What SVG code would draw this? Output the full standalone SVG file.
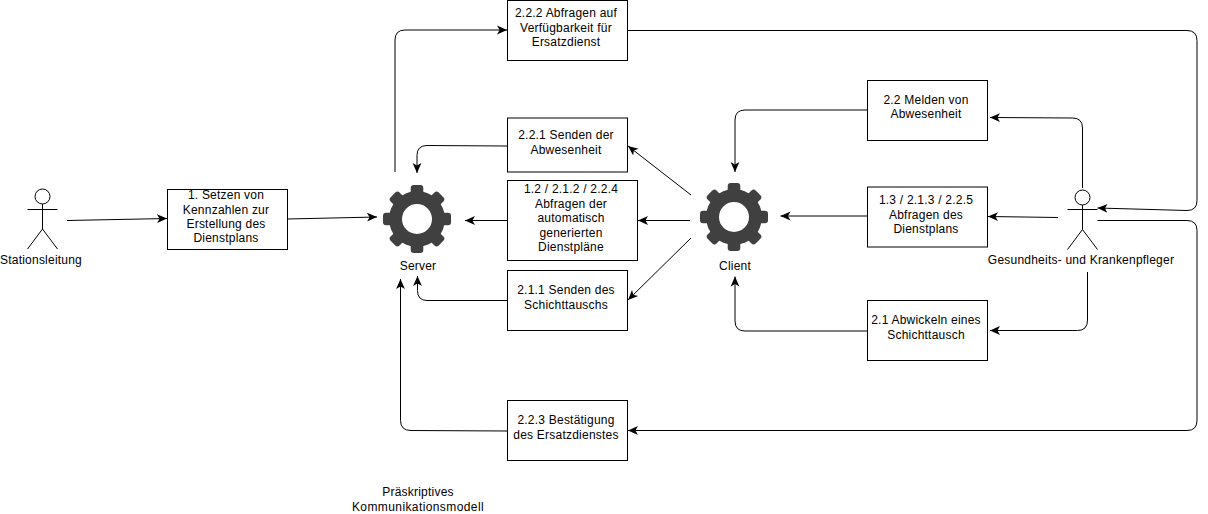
<svg xmlns="http://www.w3.org/2000/svg" xmlns:xlink="http://www.w3.org/1999/xlink" width="1208" height="514" viewBox="0 0 1208 514">
<style>
text{font-family:"Liberation Sans",Arial,sans-serif;font-size:12px;fill:#000;text-anchor:middle;letter-spacing:.22px}
.box{fill:#fff;stroke:#000;stroke-width:1}
.c{fill:none;stroke:#000;stroke-width:1;marker-end:url(#arrow)}
.actor{fill:none;stroke:#000;stroke-width:1}
.gear{fill:#404040}
</style>
<defs>
<marker id="arrow" markerUnits="userSpaceOnUse" markerWidth="11" markerHeight="10" refX="10" refY="5" orient="auto">
<path d="M10,5 L0,0.6 L2.6,5 L0,9.4Z" fill="#000"/>
</marker>
<g id="gear-shape">
<path class="gear" fill-rule="evenodd" d="M-28,0a28,28 0 1,0 56,0a28,28 0 1,0 -56,0Z M-15,0a15,15 0 1,1 30,0a15,15 0 1,1 -30,0Z"/>
<g class="gear">
<rect id="tooth" x="-6.300" y="-34" width="12.600" height="12" rx="3"/>
<use xlink:href="#tooth" transform="rotate(45)"/>
<use xlink:href="#tooth" transform="rotate(90)"/>
<use xlink:href="#tooth" transform="rotate(135)"/>
<use xlink:href="#tooth" transform="rotate(180)"/>
<use xlink:href="#tooth" transform="rotate(225)"/>
<use xlink:href="#tooth" transform="rotate(270)"/>
<use xlink:href="#tooth" transform="rotate(315)"/>
</g>
</g>
</defs>
<rect width="1208" height="514" fill="#fff"/>
<g id="connectors">
<path class="c" d="M67,220.500L167,218.500"/>
<path class="c" d="M287,219L377,217"/>
<path class="c" d="M395,172V40Q395,30 405,30H507"/>
<path class="c" d="M627.500,30.500H1187Q1197,30.500 1197,40.500V200.500Q1197,210.500 1187,210.500L1097.500,208"/>
<path class="c" d="M507,146L427,145.500Q417,145.500 417,155.500V173"/>
<path class="c" d="M507,220.500H465"/>
<path class="c" d="M690,220.500H638"/>
<path class="c" d="M691,195L628,146"/>
<path class="c" d="M691,238L628,300"/>
<path class="c" d="M507,300.500H427Q417.500,300.500 417.500,290.500V276"/>
<path class="c" d="M507,431L411,430.500Q400.500,430.500 400.500,420.500V279"/>
<path class="c" d="M867,216H780.500"/>
<path class="c" d="M867,331H745Q735,331 735,321V276.500"/>
<path class="c" d="M868,110H745Q735,110 735,120V172"/>
<path class="c" d="M1082.500,188V128Q1082.500,118 1072.500,118L990,117.500"/>
<path class="c" d="M1058,217.500L988,216.500"/>
<path class="c" d="M1087.500,272V320Q1087.500,330.500 1077.500,330.500H990"/>
<path class="c" d="M1097.500,220.500H1187Q1197,220.500 1197,230.500V420.500Q1197,430.500 1187,430.500H628"/>
</g>
<g id="actor-stationsleitung">
<circle class="actor" cx="42.500" cy="196.500" r="7.500"/>
<path class="actor" d="M42.500,204V229M27.500,209.500H57.500M27.500,249L42.500,229L57.500,249"/>
<text x="41" y="264">Stationsleitung</text>
</g>
<g id="actor-pfleger">
<circle class="actor" cx="1082.500" cy="197.500" r="7.500"/>
<path class="actor" d="M1082.500,205V229.500M1067.500,209.500H1097.500M1067.500,249.500L1082.500,229.500L1097.500,249.500"/>
<text x="1081" y="264">Gesundheits- und Krankenpfleger</text>
</g>
<g id="node-1">
<rect class="box" x="167.500" y="189.500" width="120" height="60"/>
<text x="226" y="199">1. Setzen von</text>
<text x="226" y="213.500">Kennzahlen zur</text>
<text x="226" y="228">Erstellung des</text>
<text x="226" y="242">Dienstplans</text>
</g>
<g id="node-222">
<rect class="box" x="507.500" y="0.500" width="120" height="60"/>
<text x="566" y="17">2.2.2 Abfragen auf</text>
<text x="566" y="31.500">Verfügbarkeit für</text>
<text x="566" y="46">Ersatzdienst</text>
</g>
<g id="node-221">
<rect class="box" x="507.500" y="118" width="120" height="54"/>
<text x="566" y="139">2.2.1 Senden der</text>
<text x="566" y="154">Abwesenheit</text>
</g>
<g id="node-12">
<rect class="box" x="507.500" y="180.500" width="130" height="80"/>
<text x="571" y="193">1.2 / 2.1.2 / 2.2.4</text>
<text x="571" y="208">Abfragen der</text>
<text x="571" y="222">automatisch</text>
<text x="571" y="236.500">generierten</text>
<text x="571" y="251">Dienstpläne</text>
</g>
<g id="node-211">
<rect class="box" x="507.500" y="270.500" width="120" height="60"/>
<text x="566" y="294">2.1.1 Senden des</text>
<text x="566" y="309">Schichttauschs</text>
</g>
<g id="node-223">
<rect class="box" x="507.500" y="400.500" width="120" height="60"/>
<text x="566" y="424">2.2.3 Bestätigung</text>
<text x="566" y="439">des Ersatzdienstes</text>
</g>
<g id="node-22">
<rect class="box" x="867.500" y="80.500" width="120" height="60"/>
<text x="926" y="104">2.2 Melden von</text>
<text x="926" y="118">Abwesenheit</text>
</g>
<g id="node-13">
<rect class="box" x="867.500" y="187" width="120" height="60"/>
<text x="926" y="204">1.3 / 2.1.3 / 2.2.5</text>
<text x="926" y="218.500">Abfragen des</text>
<text x="926" y="233">Dienstplans</text>
</g>
<g id="node-21">
<rect class="box" x="867.500" y="300.500" width="120" height="60"/>
<text x="926" y="324">2.1 Abwickeln eines</text>
<text x="926" y="339">Schichttausch</text>
</g>
<g id="server">
<use xlink:href="#gear-shape" transform="translate(417,219)"/>
<text x="418" y="270">Server</text>
</g>
<g id="client">
<use xlink:href="#gear-shape" transform="translate(734,217)"/>
<text x="735" y="270">Client</text>
</g>
<g id="caption">
<text x="418" y="496">Präskriptives</text>
<text x="418" y="511" style="letter-spacing:.4px">Kommunikationsmodell</text>
</g>
</svg>
